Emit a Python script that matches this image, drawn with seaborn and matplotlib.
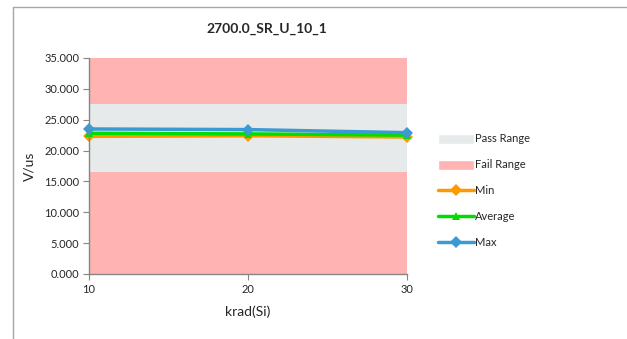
import seaborn as sns
import numpy as np
import pandas as pd
import matplotlib.pyplot as plt
from matplotlib.patches import Patch
from matplotlib.lines import Line2D

sns.set_style("white")
plt.rcParams['font.family'] = ['Lato', 'DejaVu Sans']

# data
krad = [10, 20, 30]
min_vals = [22.3, 22.4, 22.2]
avg_vals = [22.8, 22.7, 22.5]
max_vals = [23.5, 23.4, 22.9]
pass_low = [16.5, 16.5, 16.5]
pass_high = [27.5, 27.5, 27.5]
y_top = 35.0

fail_color = "#FFB3B3"
pass_color = "#E6EAEA"
colors = {"Min": "#FF9900", "Average": "#00DD00", "Max": "#3A9AD4"}
markers = {"Min": "D", "Average": "^", "Max": "D"}

df = pd.DataFrame({"krad": krad * 3,
                   "value": min_vals + avg_vals + max_vals,
                   "series": ["Min"] * 3 + ["Average"] * 3 + ["Max"] * 3})

fig = plt.figure(figsize=(6.27, 3.39), dpi=100)
ax = fig.add_axes([89 / 627, 1 - 274 / 339, 318 / 627, 216 / 339])

# background bands
ax.fill_between(krad, 0, pass_low, color=fail_color, linewidth=0)
ax.fill_between(krad, pass_low, pass_high, color=pass_color, linewidth=0)
ax.fill_between(krad, pass_high, y_top, color=fail_color, linewidth=0)

sns.lineplot(data=df, x="krad", y="value", hue="series", style="series",
             palette=colors, markers=markers, dashes=False, linewidth=2.5,
             markersize=6, markeredgewidth=0, ax=ax, legend=False)
for ln in ax.lines:
    ln.set_clip_on(False)

ax.set_xlim(10, 30)
ax.set_ylim(0, 35)
ax.set_xticks(krad)
ax.set_yticks(np.arange(0, 35.1, 5))
ax.set_yticklabels([f"{v:.3f}" for v in np.arange(0, 35.1, 5)])
ax.tick_params(axis="both", labelsize=8, length=4, direction="out",
               color="#868686", left=True, bottom=True, pad=3)
for s in ["top", "right"]:
    ax.spines[s].set_visible(False)
for s in ["left", "bottom"]:
    ax.spines[s].set_color("#868686")
    ax.spines[s].set_linewidth(1)

ax.set_xlabel("krad(Si)", fontsize=10, labelpad=8)
ax.set_ylabel("V/us", fontsize=10, labelpad=6)
fig.text(267 / 627, 1 - 29 / 339, "2700.0_SR_U_10_1", ha="center", va="center",
         fontsize=10, fontweight="bold")

handles = [Patch(facecolor=pass_color, label="Pass Range"),
           Patch(facecolor=fail_color, label="Fail Range")]
for name in ["Min", "Average", "Max"]:
    handles.append(Line2D([0], [0], color=colors[name], marker=markers[name],
                          linewidth=2.5, markersize=6, markeredgewidth=0, label=name))
fig.legend(handles=handles, loc="center left", bbox_to_anchor=(428 / 627, 1 - 191 / 339),
           frameon=False, fontsize=8, handlelength=3.2, handleheight=1.0,
           handletextpad=0.1, labelspacing=1.35)

# outer chart frame (only left/top visible in the crop)
fig.add_artist(Line2D([13 / 627, 13 / 627], [0, 1 - 7 / 339], color="#A6A6A6", lw=1))
fig.add_artist(Line2D([13 / 627, 1], [1 - 7 / 339, 1 - 7 / 339], color="#A6A6A6", lw=1))

fig.savefig("out.png", dpi=100)
